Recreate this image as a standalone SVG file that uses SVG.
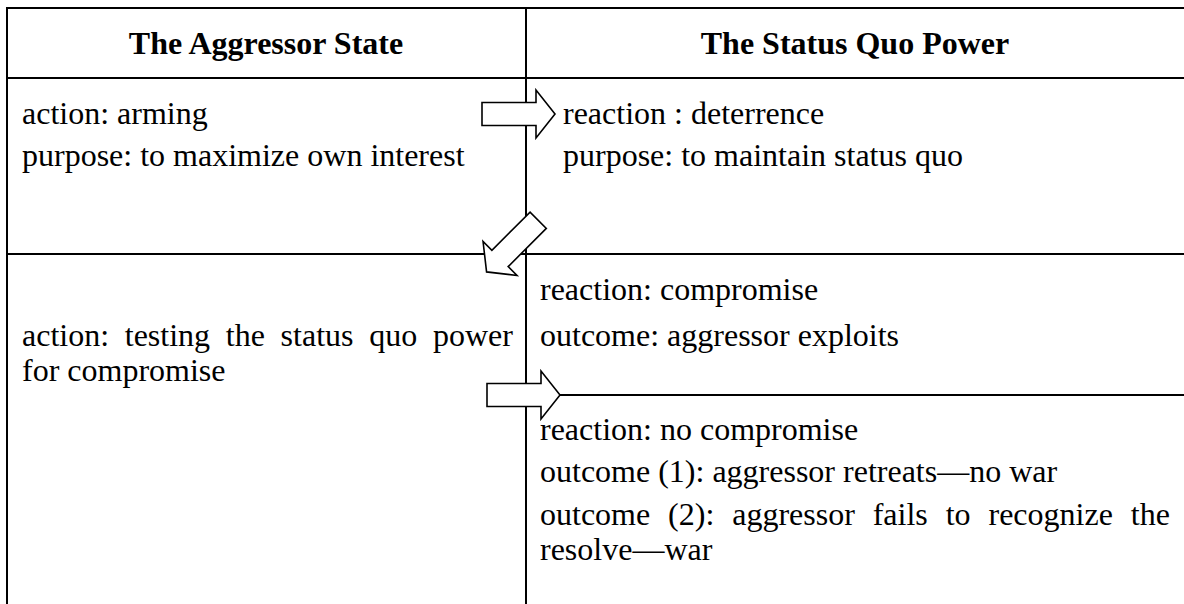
<svg xmlns="http://www.w3.org/2000/svg" width="1184" height="604" viewBox="0 0 1184 604">
<defs>
<style>
.grid{stroke:#000;stroke-width:2;fill:none}
.t{font-family:"Liberation Serif","Times New Roman",serif;font-size:32px;fill:#000}
.h{font-family:"Liberation Serif","Times New Roman",serif;font-size:32px;font-weight:bold;fill:#000;text-anchor:middle}
.arrow{fill:#fff;stroke:#000;stroke-width:1.6;stroke-linejoin:miter}
</style>
<path id="arr" d="M0,-11.5 H54 V-24 L73,0 L54,24 V11.5 H0 Z"/>
</defs>
<rect width="1184" height="604" fill="#fff"/>
<g id="table" class="grid">
<line x1="7" y1="8" x2="1184" y2="8"/>
<line x1="7" y1="78" x2="1184" y2="78"/>
<line x1="7" y1="254" x2="1184" y2="254"/>
<line x1="526" y1="395" x2="1184" y2="395"/>
<line x1="7" y1="7" x2="7" y2="604"/>
<line x1="526" y1="7" x2="526" y2="604"/>
</g>
<g id="header-aggressor"><text class="h" x="266" y="54">The Aggressor State</text></g>
<g id="header-statusquo"><text class="h" x="855" y="54">The Status Quo Power</text></g>
<g id="aggressor-arming">
<text class="t" x="22" y="124">action: arming</text>
<text class="t" x="22" y="166">purpose: to maximize own interest</text>
</g>
<g id="statusquo-deterrence">
<text class="t" x="563" y="124">reaction : deterrence</text>
<text class="t" x="563" y="166">purpose: to maintain status quo</text>
</g>
<g id="aggressor-testing">
<text class="t" x="22" y="346" word-spacing="7.7">action: testing the status quo power</text>
<text class="t" x="22" y="381">for compromise</text>
</g>
<g id="statusquo-compromise">
<text class="t" x="540" y="300">reaction: compromise</text>
<text class="t" x="540" y="346">outcome: aggressor exploits</text>
</g>
<g id="statusquo-nocompromise">
<text class="t" x="540" y="440">reaction: no compromise</text>
<text class="t" x="540" y="482">outcome (1): aggressor retreats—no war</text>
<text class="t" x="540" y="525" word-spacing="9.9">outcome (2): aggressor fails to recognize the</text>
<text class="t" x="540" y="560">resolve—war</text>
</g>
<g id="connectors">
<use href="#arr" class="arrow" transform="translate(482,114)"/>
<use href="#arr" class="arrow" transform="translate(538.2,220.3) rotate(135)"/>
<use href="#arr" class="arrow" transform="translate(487,395)"/>
</g>
</svg>
